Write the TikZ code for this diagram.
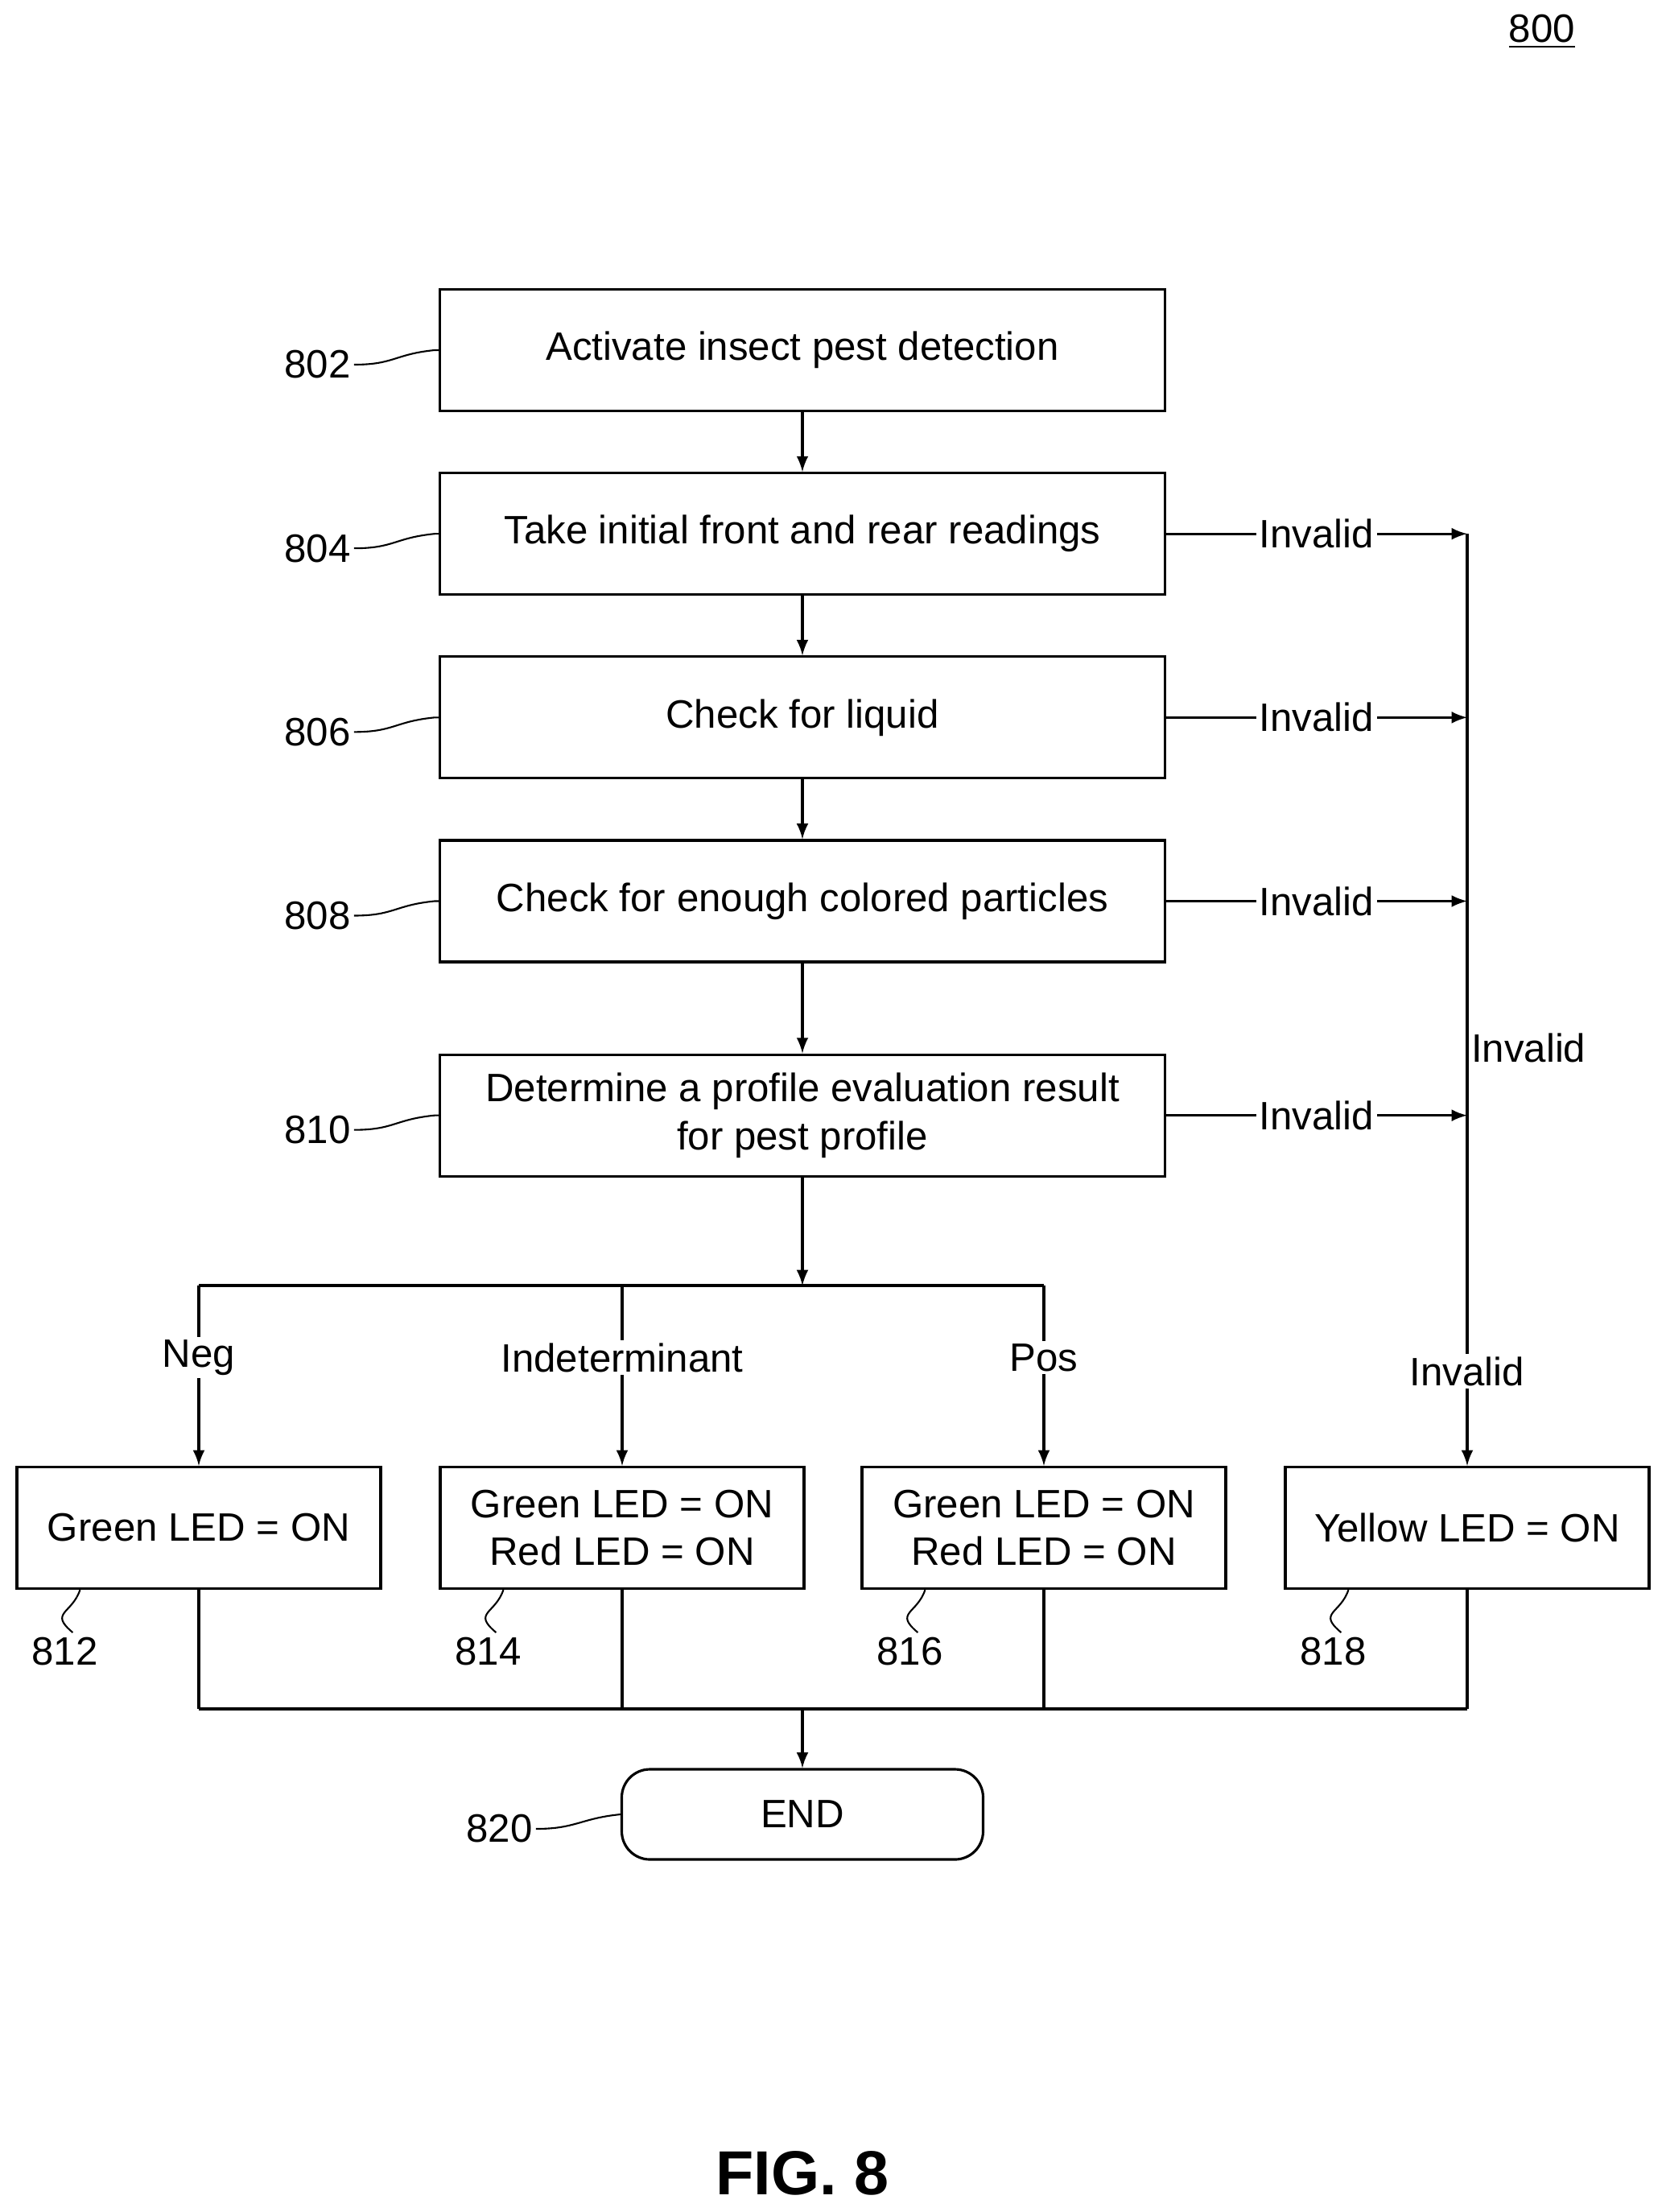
\documentclass[tikz,border=0pt]{standalone}
\usepackage{fontspec}
\setmainfont{Liberation Sans}
\usetikzlibrary{positioning,arrows,calc}
\tikzset{
    input/.style={coordinate},
    output/.style={coordinate}
}
\begin{document}
\begin{tikzpicture}[auto, node distance=0.74cm,
    block/.style={draw, rectangle, line width=0.9pt, minimum height=1.51cm, minimum width=9.01cm, align=center, font=\fontsize{14}{17}\selectfont},
    led/.style={block, minimum width=4.52cm},
    term/.style={block, rounded corners=0.35cm, minimum width=4.49cm, minimum height=1.12cm},
    arrow/.style={-latex, line width=0.9pt},
    line/.style={line width=0.9pt},
    tag/.style={font=\fontsize{14}{17}\selectfont, inner sep=1pt},
    lbl/.style={font=\fontsize{14}{17}\selectfont, fill=white, inner sep=1pt}]

\useasboundingbox (0,0) rectangle (20.69,-27.48);

\node [tag] at (19.16,-0.39) (fignum) {\underline{800}};

% main column
\node [block] at (9.97,-4.35) (activate) {Activate insect pest detection};
\node [block, below=of activate] (readings) {Take initial front and rear readings};
\node [block, below=of readings] (liquid) {Check for liquid};
\node [block, below=of liquid] (particles) {Check for enough colored particles};
\node [block, below=1.12cm of particles] (profile) {Determine a profile evaluation result\\for pest profile};

% result row
\node [led] at (2.47,-18.98) (neg) {Green LED = ON};
\node [led] at (7.73,-18.98) (indet) {Green LED = ON\\Red LED = ON};
\node [led] at (12.97,-18.98) (pos) {Green LED = ON\\Red LED = ON};
\node [led] at (18.23,-18.98) (yellow) {Yellow LED = ON};
\node [term] at (9.97,-22.54) (end) {END};

\draw [arrow] (activate) -- (readings);
\draw [arrow] (readings) -- (liquid);
\draw [arrow] (liquid) -- (particles);
\draw [arrow] (particles) -- (profile);

% invalid branch
\coordinate (rail) at (18.23,0 |- readings.east);
\draw [line] (rail) -- node [lbl, pos=0.6] {Invalid} (yellow.north |- 0,-17.27);
\draw [arrow] (yellow.north |- 0,-17.27) node [lbl, above=0pt] {Invalid} -- (yellow.north);
\foreach \b in {readings, liquid, particles, profile}
    \draw [arrow] (\b.east) -- node [lbl, pos=0.5, anchor=center] {Invalid} (rail |- \b.east);

% split
\coordinate (split) at (9.97,-15.97);
\draw [arrow] (profile) -- (split);
\draw [line] (neg.north |- split) -- (pos.north |- split);
\foreach \b/\t in {neg/Neg, indet/Indeterminant, pos/Pos}
    \draw [arrow] (\b.north |- split) -- node [lbl, pos=0.4, anchor=center] {\t} (\b.north);

% merge
\coordinate (merge) at (9.97,-21.23);
\foreach \b in {neg, indet, pos, yellow}
    \draw [line] (\b.south) -- (\b.south |- merge);
\draw [line] (neg.south |- merge) -- (yellow.south |- merge);
\draw [arrow] (merge) -- (end);

% reference numerals
\foreach \b/\n in {activate/802, readings/804, liquid/806, particles/808, profile/810}{
    \node [tag, left=1.05cm of \b.west, yshift=-0.18cm] (r\n) {\n};
    \draw [line, line width=0.6pt] (r\n.east) .. controls +(0.5,0) and +(-0.5,-0.05) .. ($(\b.west)+(-0.05,0)$) -- (\b.west);
}
\node [tag, left=1.05cm of end.west, yshift=-0.18cm] (r820) {820};
\draw [line, line width=0.6pt] (r820.east) .. controls +(0.5,0) and +(-0.5,-0.05) .. (end.west);
\foreach \b/\n in {neg/812, indet/814, pos/816, yellow/818}{
    \node [tag, anchor=north] at ($(\b.south west)+(0.61,-0.55)$) (r\n) {\n};
    \draw [line, line width=0.6pt] ($(r\n.north)+(0.1,0.02)$) .. controls +(-0.3,0.25) and +(-0.1,-0.3) .. ($(\b.south west)+(0.8,0)$);
}

\node [font=\bfseries\fontsize{22}{26}\selectfont] at (9.97,-27.0) (caption) {FIG. 8};
\end{tikzpicture}
\end{document}
